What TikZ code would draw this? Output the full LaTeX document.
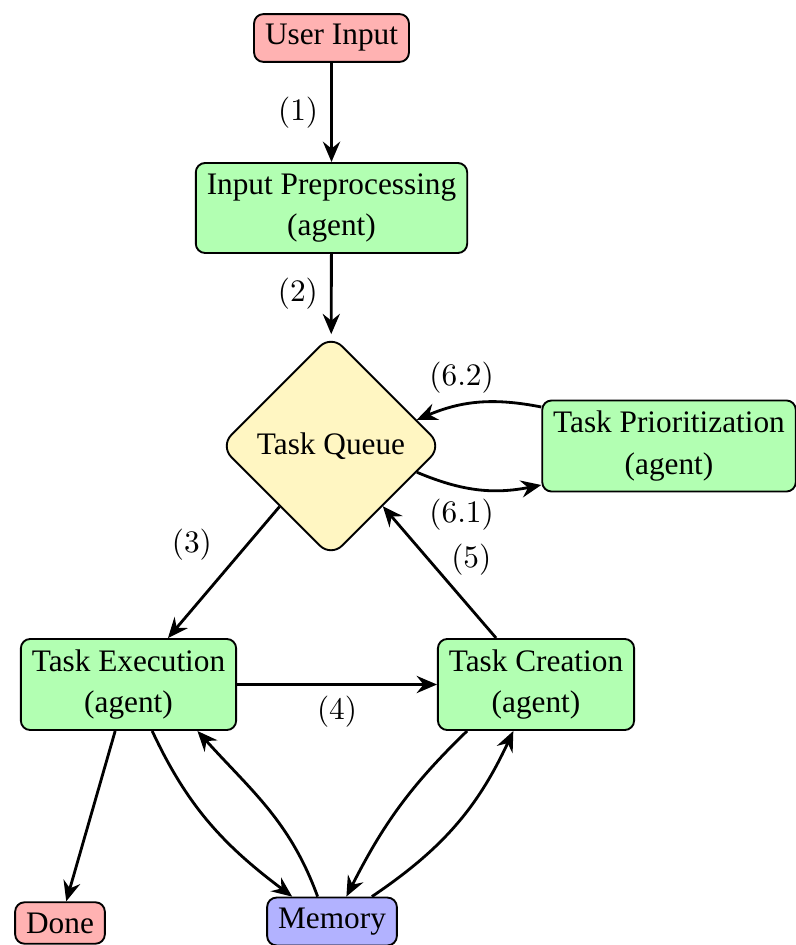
\documentclass[tikz,border=0pt]{standalone}
\usepackage[no-math]{fontspec}
\setmainfont{Liberation Serif}
\usetikzlibrary{shapes.geometric,arrows.meta}
\definecolor{boxred}{RGB}{255,178,178}
\definecolor{boxgreen}{RGB}{178,255,178}
\definecolor{boxblue}{RGB}{178,178,255}
\definecolor{boxyellow}{RGB}{255,246,194}
\begin{document}
\begin{tikzpicture}[x=0.3195pt,y=-0.3195pt,
  box/.style={draw, rounded corners=3pt, line width=0.6pt, align=center,
    inner xsep=3.5pt, inner ysep=3.3pt, font=\fontsize{10pt}{13.4pt}\selectfont},
  agentbox/.style={box, fill=boxgreen},
  endbox/.style={box, fill=boxred},
  membox/.style={box, fill=boxblue},
  queuebox/.style={diamond, draw, fill=boxyellow, line width=0.6pt, rounded corners=5pt,
    inner sep=0pt, minimum width=71pt, minimum height=71pt, font=\fontsize{10pt}{12pt}\selectfont},
  conn/.style={line width=0.9pt, -{Stealth[length=6.5pt,width=5.5pt,inset=2.2pt]}},
  lbl/.style={font=\fontsize{10pt}{12pt}\selectfont}
]
\useasboundingbox (0,0) rectangle (795,945);

\node[endbox] (ui) at (331.5,38) {User Input};
\node[agentbox] (pre) at (331.5,208) {Input Preprocessing\\(agent)};
\node[queuebox] (tq) at (331,446) {Task Queue};
\node[agentbox] (tp) at (669,446) {Task Prioritization\\(agent)};
\node[agentbox] (te) at (128.5,684.5) {Task Execution\\(agent)};
\node[agentbox] (tc) at (536,684.5) {Task Creation\\(agent)};
\node[endbox] (done) at (60,923) {Done};
\node[membox] (mem) at (332,921.5) {Memory};

\draw[conn] (ui) -- node[lbl, left=0.5pt] {$(1)$} (pre);
\draw[conn] (pre) -- node[lbl, left=0.5pt] {$(2)$} (tq);
\draw[conn] (tq) -- node[lbl, above left] {$(3)$} (te);
\draw[conn] (te) -- node[lbl, below] {$(4)$} (tc);
\draw[conn] (tc) -- node[lbl, pos=0.5, right, yshift=4pt] {$(5)$} (tq);
\draw[conn] (tq) to[bend right=17] node[lbl, pos=0.36, below] {$(6.1)$} (tp);
\draw[conn] (tp) to[bend right=17] node[lbl, pos=0.64, above] {$(6.2)$} (tq);
\draw[conn] (te) -- (done);
\draw[conn] (te.-63) to[out=-65, in=143] (mem.148);
\draw[conn] (mem.120) to[out=110, in=-48] (te.-34);
\draw[conn] (tc.-146) to[out=-136, in=63] (mem.60);
\draw[conn] (mem.32) to[out=34, in=-115] (tc.-116);
\end{tikzpicture}
\end{document}
